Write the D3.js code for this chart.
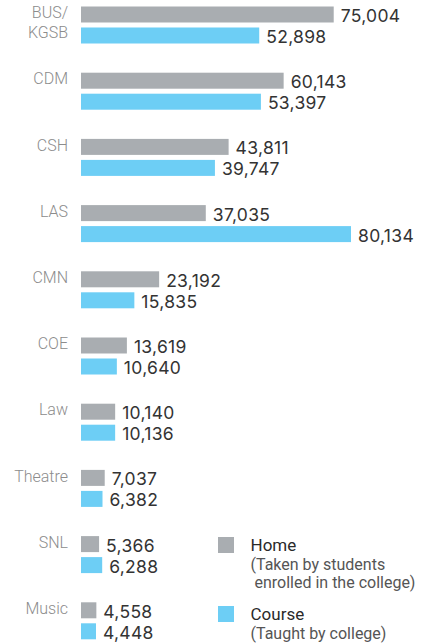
<!DOCTYPE html>
<html>
<head>
<meta charset="utf-8">
<script src="https://cdn.jsdelivr.net/npm/d3@7"></script>
<style>
  html, body { margin: 0; padding: 0; background: #fff; }
  svg { display: block; }
</style>
</head>
<body>
<svg id="chart" width="427" height="643"></svg>
<script>
const categories = ["BUS/\nKGSB", "CDM", "CSH", "LAS", "CMN", "COE", "Law", "Theatre", "SNL", "Music"];
const homeValues = [75004, 60143, 43811, 37035, 23192, 13619, 10140, 7037, 5366, 4558];
const courseValues = [52898, 53397, 39747, 80134, 15835, 10640, 10136, 6382, 6288, 4448];
const seriesNames = ["Home", "Course"];
const legendNotes = [["(Taken by students", "\u00a0enrolled in the college)"], ["(Taught by college)"]];

const colors = { Home: "#a9adb1", Course: "#6dcef5" };

const svg = d3.select("#chart");

const x = d3.scaleLinear().domain([0, 80134]).range([81, 351]);
const y = d3.scaleBand().domain(categories).range([6.5, 6.5 + 66.2 * categories.length]).paddingInner(0).paddingOuter(0);
const ySub = d3.scaleBand().domain(seriesNames).range([0, 37]).paddingInner(5 / 21);

const rows = categories.map((c, i) => ({ cat: c, Home: homeValues[i], Course: courseValues[i] }));
const fmt = d3.format(",");

const g = svg.append("g");

const groups = g.selectAll("g.row").data(rows).join("g")
  .attr("class", "row")
  .attr("transform", d => `translate(0,${y(d.cat)})`);

// category labels
groups.append("text")
  .attr("x", 68)
  .attr("y", 11.7)
  .attr("text-anchor", "end")
  .attr("font-family", "Roboto, sans-serif")
  .attr("font-weight", 300)
  .attr("font-size", 16)
  .attr("fill", "#8c8c8c")
  .selectAll("tspan")
  .data(d => d.cat.split("\n"))
  .join("tspan")
  .attr("x", 68)
  .attr("dy", (d, i) => i === 0 ? 0 : 19.7)
  .text(d => d);

seriesNames.forEach(s => {
  groups.append("rect")
    .attr("x", x(0))
    .attr("y", ySub(s))
    .attr("width", d => x(d[s]) - x(0))
    .attr("height", ySub.bandwidth())
    .attr("fill", colors[s]);
  groups.append("text")
    .attr("x", d => x(d[s]) + 7)
    .attr("y", ySub(s) + ySub.bandwidth() - 0.5)
    .attr("font-family", "Inter, sans-serif")
    .attr("font-size", 17.5)
    .attr("letter-spacing", 0.3)
    .attr("fill", "#333")
    .text(d => fmt(d[s]));
});

// legend
const legendPos = [{ x: 218, y: 537 }, { x: 218, y: 606 }];
seriesNames.forEach((s, i) => {
  const lg = svg.append("g").attr("transform", `translate(${legendPos[i].x},${legendPos[i].y})`);
  lg.append("rect").attr("width", 16).attr("height", 16).attr("fill", colors[s]);
  lg.append("text")
    .attr("x", 32.5).attr("y", 14)
    .attr("font-family", "Roboto, sans-serif")
    .attr("font-weight", 400)
    .attr("font-size", 17)
    .attr("fill", "#2a2a2a")
    .text(s);
  lg.append("text")
    .attr("font-family", "Roboto, sans-serif")
    .attr("font-weight", 400)
    .attr("font-size", 16)
    .attr("fill", "#555")
    .selectAll("tspan")
    .data(legendNotes[i])
    .join("tspan")
    .attr("x", 32.5)
    .attr("y", (d, j) => 32.5 + j * 18.5)
    .text(d => d);
});
</script>
</body>
</html>
